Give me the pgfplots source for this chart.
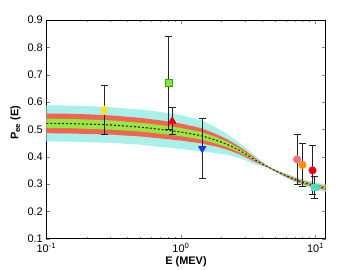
\documentclass[border=0pt]{standalone}
\usepackage{pgfplots}
\pgfplotsset{compat=1.18}
\usepackage{fontspec}
\setmainfont{Liberation Sans}
\definecolor{bandcyan}{RGB}{168,240,234}
\definecolor{bandred}{RGB}{244,98,80}
\definecolor{bandgreen}{RGB}{146,232,70}
\definecolor{dashred}{RGB}{115,10,10}
\definecolor{myyellow}{RGB}{255,228,0}
\definecolor{mygreen}{RGB}{130,230,60}
\definecolor{mygreenedge}{RGB}{60,160,30}
\definecolor{myred}{RGB}{225,0,0}
\definecolor{myblue}{RGB}{30,50,225}
\definecolor{mypink}{RGB}{250,110,130}
\definecolor{myorange}{RGB}{255,140,0}
\definecolor{myred2}{RGB}{230,0,30}
\definecolor{myteal}{RGB}{80,220,195}
\definecolor{ebar}{RGB}{35,35,35}

\pgfplotsset{ebars/.style={
  error bars/y dir=both, error bars/y explicit,
  error bars/error bar style={ebar, line width=1pt},
  error bars/error mark options={ebar, line width=1pt, mark size=3.5bp, rotate=90}}}

\begin{document}
\begin{tikzpicture}
\useasboundingbox (-46.3bp,-31.3bp) rectangle (313.7bp,238.7bp);
\begin{axis}[
  at={(0,0)}, anchor=south west,
  scale only axis,
  width=279.4bp, height=218.7bp,
  xmode=log,
  xmin=0.1, xmax=11.9,
  ymin=0.1, ymax=0.9,
  xtick={0.1,1,10},
  xticklabels={10\textsuperscript{-1},10\textsuperscript{0},10\textsuperscript{1}},
  ytick={0.1,0.2,0.3,0.4,0.5,0.6,0.7,0.8,0.9},
  yticklabels={0.1,0.2,0.3,0.4,0.5,0.6,0.7,0.8,0.9},
  tick label style={font=\fontsize{11}{13}\selectfont},
  xticklabel style={yshift=-1bp},
  tick align=inside,
  major tick length=4bp, minor tick length=2bp,
  axis line style={black, line width=0.6pt},
  xlabel={\textbf{E (MEV)}},
  ylabel={\textbf{P\textsubscript{ee} (E)}},
  label style={font=\fontsize{11}{13}\selectfont},
  xlabel style={at={(axis description cs:0.5,-0.107)}, anchor=center},
  ylabel style={at={(axis description cs:-0.11,0.53)}, anchor=center},
]
% cyan band (upper edge forward, lower edge back)
\addplot[fill=bandcyan, draw=none] coordinates {
(0.1,0.588)(0.15,0.587)(0.2,0.585)(0.3,0.581)(0.5,0.572)(0.7,0.564)(1.0,0.552)(1.4,0.534)(1.8,0.509)(2.2,0.483)(2.6,0.458)(3.0,0.435)(3.5,0.407)(4.0,0.383)(4.5,0.364)(5.0,0.353)(6.0,0.339)(7.0,0.327)(8.0,0.318)(10,0.306)(12,0.298)
(12,0.270)(10,0.280)(8.0,0.294)(7.0,0.307)(6.0,0.323)(5.0,0.345)(4.5,0.358)(4.0,0.365)(3.5,0.373)(3.0,0.387)(2.6,0.398)(2.2,0.407)(1.8,0.413)(1.4,0.420)(1.0,0.428)(0.7,0.436)(0.5,0.444)(0.3,0.451)(0.2,0.453)(0.15,0.455)(0.1,0.456)
} -- cycle;
% red band
\addplot[fill=bandred, draw=none] coordinates {
(0.1,0.558)(0.15,0.557)(0.2,0.555)(0.3,0.551)(0.5,0.542)(0.7,0.533)(1.0,0.521)(1.4,0.505)(1.8,0.484)(2.2,0.464)(2.6,0.443)(3.0,0.423)(3.5,0.398)(4.0,0.378)(4.5,0.3625)(5.0,0.351)(6.0,0.335)(7.0,0.322)(8.0,0.312)(10,0.300)(12,0.291)
(12,0.277)(10,0.286)(8.0,0.300)(7.0,0.312)(6.0,0.327)(5.0,0.347)(4.5,0.3595)(4.0,0.370)(3.5,0.382)(3.0,0.399)(2.6,0.413)(2.2,0.426)(1.8,0.438)(1.4,0.449)(1.0,0.459)(0.7,0.467)(0.5,0.474)(0.3,0.481)(0.2,0.483)(0.15,0.485)(0.1,0.486)
} -- cycle;
% green band
\addplot[fill=bandgreen, draw=none] coordinates {
(0.1,0.539)(0.15,0.538)(0.2,0.536)(0.3,0.533)(0.5,0.524)(0.7,0.516)(1.0,0.505)(1.4,0.491)(1.8,0.473)(2.2,0.455)(2.6,0.436)(3.0,0.417)(3.5,0.394)(4.0,0.376)(4.5,0.362)(5.0,0.350)(6.0,0.333)(7.0,0.3195)(8.0,0.309)(10,0.2965)(12,0.2875)
(12,0.2805)(10,0.2895)(8.0,0.303)(7.0,0.3145)(6.0,0.329)(5.0,0.348)(4.5,0.360)(4.0,0.372)(3.5,0.386)(3.0,0.405)(2.6,0.420)(2.2,0.435)(1.8,0.449)(1.4,0.463)(1.0,0.475)(0.7,0.484)(0.5,0.492)(0.3,0.499)(0.2,0.502)(0.15,0.504)(0.1,0.505)
} -- cycle;
% central curve
\addplot[dashred, line width=1.1pt, dash pattern=on 2pt off 2pt, smooth] coordinates {
(0.1,0.522)(0.15,0.521)(0.2,0.519)(0.3,0.516)(0.5,0.508)(0.7,0.500)(1.0,0.490)(1.4,0.477)(1.8,0.461)(2.2,0.445)(2.6,0.428)(3.0,0.411)(3.5,0.390)(4.0,0.374)(4.5,0.361)(5.0,0.349)(6.0,0.331)(7.0,0.317)(8.0,0.306)(10,0.293)(12,0.284)
};

% pp (yellow diamond)
\addplot[only marks, mark=diamond*, mark size=4.5bp, mark options={fill=myyellow, draw=myyellow}, ebars]
  coordinates {(0.27,0.57) +- (0,0.09)};
% Be7 (green square)
\addplot[only marks, mark=square*, mark size=3.5bp, mark options={fill=mygreen, draw=mygreenedge, line width=0.6pt}, ebars]
  coordinates {(0.815,0.67) +- (0,0.17)};
% Be7 (red triangle)
\addplot[only marks, mark=triangle*, mark size=4.5bp, mark options={fill=myred, draw=myred}, ebars]
  coordinates {(0.862,0.53) +- (0,0.05)};
% pep (blue triangle down)
\addplot[only marks, mark=triangle*, mark size=4.5bp, mark options={fill=myblue, draw=myblue, rotate=180}, ebars]
  coordinates {(1.44,0.43) +- (0,0.11)};
% B8 points
\addplot[only marks, mark=*, mark size=3.8bp, mark options={fill=mypink, draw=mypink}, ebars]
  coordinates {(7.3,0.39) +- (0,0.09)};
\addplot[only marks, mark=*, mark size=3.8bp, mark options={fill=myorange, draw=myorange}, ebars]
  coordinates {(8.0,0.37) +- (0,0.08)};
\addplot[only marks, mark=*, mark size=3.8bp, mark options={fill=myred2, draw=myred2}, ebars]
  coordinates {(9.5,0.35) +- (0,0.09)};
\addplot[only marks, mark=square*, mark size=3.3bp, mark options={fill=myteal, draw=myteal}, ebars]
  coordinates {(9.9,0.288) +- (0,0.04)};
\end{axis}
\end{tikzpicture}
\end{document}
